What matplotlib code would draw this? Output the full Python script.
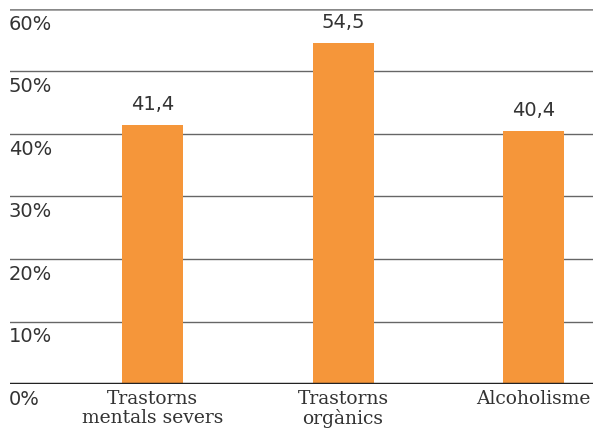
import matplotlib.pyplot as plt
import numpy as np

# data
categories = ["Trastorns\nmentals severs", "Trastorns\norgànics", "Alcoholisme"]
values = [41.4, 54.5, 40.4]
value_labels = ["41,4", "54,5", "40,4"]
yticks = [0, 10, 20, 30, 40, 50, 60]
ytick_labels = ["0%", "10%", "20%", "30%", "40%", "50%", "60%"]

orange = "#F5963A"
txt = "#333333"

fig = plt.figure(figsize=(5.93, 4.32), dpi=100)
ax = fig.add_axes([10/593, 1 - 384/432, 583/593, 375/432])

x = np.arange(len(categories))
ax.bar(x, values, width=0.32, color=orange, zorder=2)

# gridlines
for t in yticks[1:]:
    lw = 1.8 if t == 60 else 1.0
    col = "#888888" if t == 60 else "#666666"
    ax.axhline(t, color=col, lw=lw, zorder=1)
ax.axhline(0, color="#222222", lw=2.5, zorder=3)

ax.set_xlim(-0.748, 2.312)
ax.set_ylim(0, 60)
ax.axis("off")

# y labels sit just under each gridline
for t, lab in zip(yticks, ytick_labels):
    ax.annotate(lab, (0, t), xycoords=("axes fraction", "data"),
                xytext=(-1, -6), textcoords="offset pixels",
                ha="left", va="top", fontsize=14, color=txt,
                family="DejaVu Sans", annotation_clip=False)

# value labels
for xi, v, lab in zip(x, values, value_labels):
    ax.annotate(lab, (xi, v), xytext=(0, 11), textcoords="offset pixels",
                ha="center", va="bottom", fontsize=14, color=txt,
                family="DejaVu Sans")

# category labels
for xi, c in zip(x, categories):
    ax.annotate(c, (xi, 0), xytext=(0, -6), textcoords="offset pixels",
                ha="center", va="top", fontsize=13.5, color=txt,
                family="DejaVu Serif", linespacing=1.1,
                annotation_clip=False)

plt.savefig("out.png", dpi=100)
